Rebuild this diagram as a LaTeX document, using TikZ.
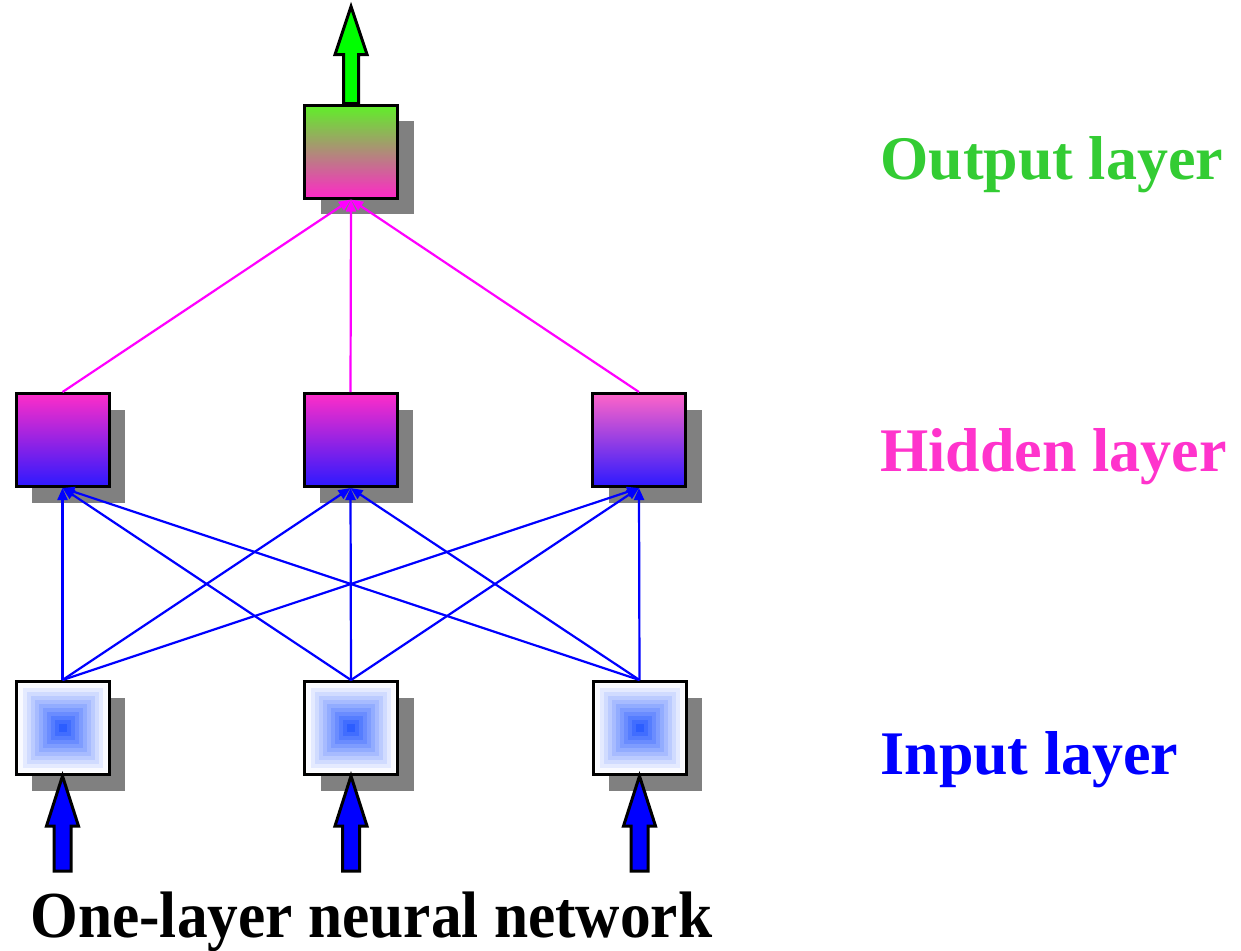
\documentclass[tikz,border=0pt]{standalone}
\usepackage{fontspec}
\setmainfont{Liberation Serif}
\usetikzlibrary{arrows.meta,shadows}

\definecolor{inColor}{RGB}{40,90,255}
\definecolor{hidTop}{RGB}{255,45,200}
\definecolor{hidTopLight}{RGB}{255,100,200}
\definecolor{hidBottom}{RGB}{45,25,255}
\definecolor{outTop}{RGB}{95,240,40}
\definecolor{outMid}{RGB}{185,175,150}
\definecolor{outBottom}{RGB}{255,40,200}
\definecolor{shadowColor}{RGB}{128,128,128}
\definecolor{linkBlue}{RGB}{0,0,255}
\definecolor{linkPink}{RGB}{255,0,255}
\definecolor{arrowGreen}{RGB}{0,255,0}
\definecolor{greenText}{RGB}{51,204,51}
\definecolor{pinkText}{RGB}{255,51,204}
\definecolor{blueText}{RGB}{0,0,255}

\tikzset{
  unit/.style={draw=black,line width=1.5pt,minimum size=46.5pt,inner sep=0pt,
    drop shadow={shadow xshift=8pt,shadow yshift=-8pt,fill=shadowColor,opacity=1}},
  inunit/.style={unit,fill=white},
  hidunit/.style={unit,top color=hidTop,bottom color=hidBottom},
  outunit/.style={unit,top color=outTop,middle color=outMid,bottom color=outBottom},
  bluelink/.style={draw=linkBlue,line width=1.1pt,-{Triangle[length=6pt,width=5pt]}},
  pinklink/.style={draw=linkPink,line width=1.1pt,-{Triangle[length=6pt,width=5pt]}},
  bigarrow/.style={draw=black,line width=1.5pt,line join=miter},
  layertext/.style={anchor=west,inner sep=0pt,font=\fontsize{31}{36}\selectfont\bfseries}
}

\begin{document}
\begin{tikzpicture}[x=0.5pt,y=-0.5pt]
\path[use as bounding box] (0,0) rectangle (1241,950);

% input layer
\node[inunit] (in1) at ( 62.5,728) {};
\node[inunit] (in2) at (351.0,728) {};
\node[inunit] (in3) at (639.5,728) {};
\foreach \u in {in1,in2,in3}{
  \foreach \k in {0,...,10}{
    \pgfmathsetmacro{\half}{44-4*\k}
    \pgfmathsetmacro{\mix}{3+9.5*\k}
    \fill[inColor!\mix!white] ([shift={(-\half,-\half)}]\u.center) rectangle ([shift={(\half,\half)}]\u.center);
  }
}

% hidden layer
\node[hidunit] (hid1) at ( 62.5,440) {};
\node[hidunit] (hid2) at (350.5,440) {};
\node[hidunit,top color=hidTopLight] (hid3) at (639.0,440) {};

% output layer
\node[outunit] (out) at (351,151.5) {};

% connections
\foreach \i in {1,2,3}{
  \foreach \j in {1,2,3}{
    \draw[bluelink] (in\i.north) -- (hid\j.south);
  }
  \draw[pinklink] (hid\i.north) -- (out.south);
}

% input arrows
\foreach \u in {in1,in2,in3}{
  \draw[bigarrow,fill=linkBlue] (\u.south) -- ++(16,50) -- ++(-7.5,0) -- ++(0,45)
    -- ++(-17,0) -- ++(0,-45) -- ++(-7.5,0) -- cycle;
}

% output arrow
\draw[bigarrow,fill=arrowGreen] (out.north) ++(-7.5,0) -- ++(0,-49) -- ++(-8.5,0)
  -- ++(16,-48) -- ++(16,48) -- ++(-8.5,0) -- ++(0,49) -- cycle;

% labels
\node[layertext,text=greenText] (outlabel) at (880,165) {Output layer};
\node[layertext,text=pinkText] (hidlabel) at (880,457) {Hidden layer};
\node[layertext,text=blueText] (inlabel) at (880,760) {Input layer};
\node[layertext,text=black,xscale=0.99,yscale=1.06] (title) at (30,922) {One-layer neural network};
\end{tikzpicture}
\end{document}
